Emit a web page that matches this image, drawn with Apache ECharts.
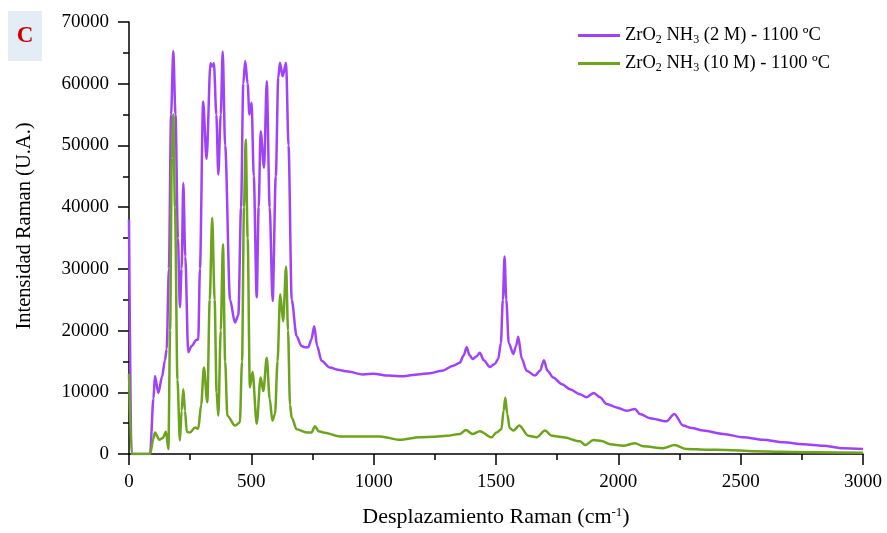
<!DOCTYPE html>
<html>
<head>
<meta charset="utf-8">
<script src="https://cdn.jsdelivr.net/npm/echarts@6/dist/echarts.min.js"></script>
<style>
html,body{margin:0;padding:0;background:#fff;}
#chart{width:887px;height:533px;}
</style>
</head>
<body>
<div id="chart"></div>
<script>
// Raman shift (cm-1) and intensity for ZrO2 NH3 (2 M) - 1100 ºC
var shift2M = [0,10,86,100,106,120,135,147,154,163,172,181,190,200,208,215,222,230,242,256,276,283,290,303,317,333,340,347,357,365,375,383,393,413,433,447,458,467,475,485,492,501,510,522,530,538,552,563,575,587,600,610,617,628,642,652,665,685,705,719,733,745,757,769,787,821,860,889,957,1000,1060,1121,1180,1230,1280,1325,1352,1368,1380,1392,1404,1420,1434,1450,1475,1495,1509,1520,1528,1535,1542,1552,1571,1582,1591,1605,1625,1659,1680,1696,1710,1734,1770,1802,1843,1870,1900,1925,1952,1993,2034,2068,2088,2129,2197,2229,2265,2300,2347,2429,2511,2592,2674,2756,2837,2919,3000];
var intensity2M = [38000,0,0,9000,12650,9900,12500,15200,17000,30000,55000,65300,55000,35000,23800,30000,43900,32000,16500,17500,18500,18500,30000,57100,47800,63300,62800,63300,55000,45300,55000,65200,50000,25000,21300,22500,40000,60000,63700,60000,55000,56900,45000,25400,40000,52300,46400,60400,40000,24800,45000,61000,63400,61200,63400,50000,25000,19100,17500,17300,17300,18500,20700,17500,15100,14000,13600,13400,12900,13000,12700,12600,12900,13100,13500,14300,14800,16000,17300,16000,15400,15800,16400,15200,14100,14600,15400,18000,25000,32000,25000,18000,16200,17500,19000,15500,13500,12700,13500,15200,13500,12400,11300,10500,9700,9200,9900,9200,8100,7550,7000,7300,6500,5800,5300,6500,4600,4200,3800,3250,2700,2300,1900,1600,1350,950,800];

// Raman shift (cm-1) and intensity for ZrO2 NH3 (10 M) - 1100 ºC
var shift10M = [0,11,86,100,106,124,138,151,161,168,175,181,188,198,208,215,222,229,236,249,270,283,295,306,320,330,340,350,358,365,375,384,393,402,433,453,462,470,477,485,494,505,522,538,549,563,575,586,597,607,618,630,642,650,658,665,685,726,746,760,775,794,862,944,1026,1107,1189,1250,1298,1353,1377,1404,1434,1482,1502,1522,1531,1538,1546,1556,1571,1595,1632,1666,1700,1728,1775,1843,1864,1898,1932,1966,2020,2068,2102,2183,2229,2279,2361,2443,2552,2661,2797,3000];
var intensity10M = [13000,0,0,2500,3500,2300,2600,3600,800,20000,48000,55000,40000,12000,2200,7000,10500,7000,3600,3500,4300,4100,8000,14000,8400,25000,38300,25000,10000,6200,20000,34000,15000,6200,4600,5100,15000,40000,50900,35000,10800,13300,4900,12400,10200,15600,9000,5400,6500,15000,25900,21500,30400,20000,8000,5900,4000,3500,3500,4500,3700,3500,2850,2850,2850,2300,2700,2800,2950,3250,3900,3250,3700,2700,3500,4000,7000,9100,6500,4200,3800,4600,2950,2700,3800,2950,2700,2050,1450,2250,2100,1600,1350,1750,1250,950,1450,800,700,650,450,380,270,220];

var seriesNames = ['ZrO2 NH3 (2 M) - 1100 ºC', 'ZrO2 NH3 (10 M) - 1100 ºC'];
var xTicks = [0, 500, 1000, 1500, 2000, 2500, 3000];
var yTicks = [0, 10000, 20000, 30000, 40000, 50000, 60000, 70000];

function pairs(xs, ys) {
  var out = [];
  for (var i = 0; i < xs.length; i++) out.push([xs[i], ys[i]]);
  return out;
}

var serif = '"Liberation Serif", "Times New Roman", serif';
var chart = echarts.init(document.getElementById('chart'), null, {renderer: 'canvas'});

var legendRich = {
  n: {fontFamily: serif, fontSize: 18.5, color: '#000'},
  s: {fontFamily: serif, fontSize: 12, color: '#000', verticalAlign: 'bottom', padding: [9, 0, 0, 0]}
};

chart.setOption({
  backgroundColor: '#fff',
  animation: false,
  grid: {left: 129, right: 24, top: 22, bottom: 78},
  graphic: [
    {type: 'rect', left: 8, top: 11, shape: {width: 34, height: 50}, style: {fill: '#e4edf6'}},
    {type: 'text', x: 25, y: 36, style: {text: 'C', fontFamily: serif, fontWeight: 'bold', fontSize: 23, fill: '#cc0000', textAlign: 'center', textVerticalAlign: 'middle'}},
    {type: 'text', x: 25, y: 226, rotation: Math.PI / 2, style: {text: 'Intensidad Raman (U.A.)', fontFamily: serif, fontSize: 20.5, fill: '#000', textAlign: 'center', textVerticalAlign: 'middle'}}
  ],
  legend: {
    orient: 'vertical',
    left: 578,
    top: 26,
    padding: 0,
    itemWidth: 42,
    itemHeight: 3,
    itemGap: 8,
    icon: 'rect',
    data: seriesNames,
    formatter: function (name) {
      var m = name.match(/\((\d+) M\)/)[1];
      return '{n|ZrO}{s|2}{n| NH}{s|3}{n| (' + m + ' M) - 1100 ºC}';
    },
    textStyle: {rich: legendRich, padding: [0, 0, 0, 0]}
  },
  xAxis: {
    type: 'value',
    min: 0, max: 3000, interval: 500,
    name: 'Desplazamiento Raman (cm{sup|-1})',
    nameLocation: 'middle',
    nameGap: 52,
    nameTextStyle: {fontFamily: serif, fontSize: 22, color: '#000',
      rich: {sup: {fontFamily: serif, fontSize: 13, color: '#000', verticalAlign: 'top', padding: [0, 0, 9, 0]}}},
    axisLine: {lineStyle: {color: '#000', width: 1.5}},
    axisTick: {inside: false, length: 11, lineStyle: {color: '#000', width: 1.5}},
    minorTick: {show: true, splitNumber: 2, length: 6, lineStyle: {color: '#000', width: 1.5}},
    axisLabel: {fontFamily: serif, fontSize: 19, color: '#000', margin: 19,
      formatter: function (v) { return xTicks.indexOf(v) >= 0 ? String(v) : ''; }},
    splitLine: {show: false}
  },
  yAxis: {
    type: 'value',
    min: 0, max: 70000, interval: 10000,
    axisLine: {show: true, lineStyle: {color: '#000', width: 1.5}},
    axisTick: {show: true, inside: false, length: 11, lineStyle: {color: '#000', width: 1.5}},
    minorTick: {show: true, splitNumber: 2, length: 6, lineStyle: {color: '#000', width: 1.5}},
    axisLabel: {fontFamily: serif, fontSize: 19, color: '#000', margin: 20,
      formatter: function (v) { return yTicks.indexOf(v) >= 0 ? String(v) : ''; }},
    splitLine: {show: false}
  },
  series: [
    {
      name: seriesNames[0], type: 'line', data: pairs(shift2M, intensity2M),
      showSymbol: false, smooth: 0.3, smoothMonotone: 'x',
      lineStyle: {color: '#a142fb', width: 2.5}, itemStyle: {color: '#a142fb'}, z: 2
    },
    {
      name: seriesNames[1], type: 'line', data: pairs(shift10M, intensity10M),
      showSymbol: false, smooth: 0.3, smoothMonotone: 'x',
      lineStyle: {color: '#6ca41d', width: 2.5}, itemStyle: {color: '#6ca41d'}, z: 3
    }
  ]
});
</script>
</body>
</html>
